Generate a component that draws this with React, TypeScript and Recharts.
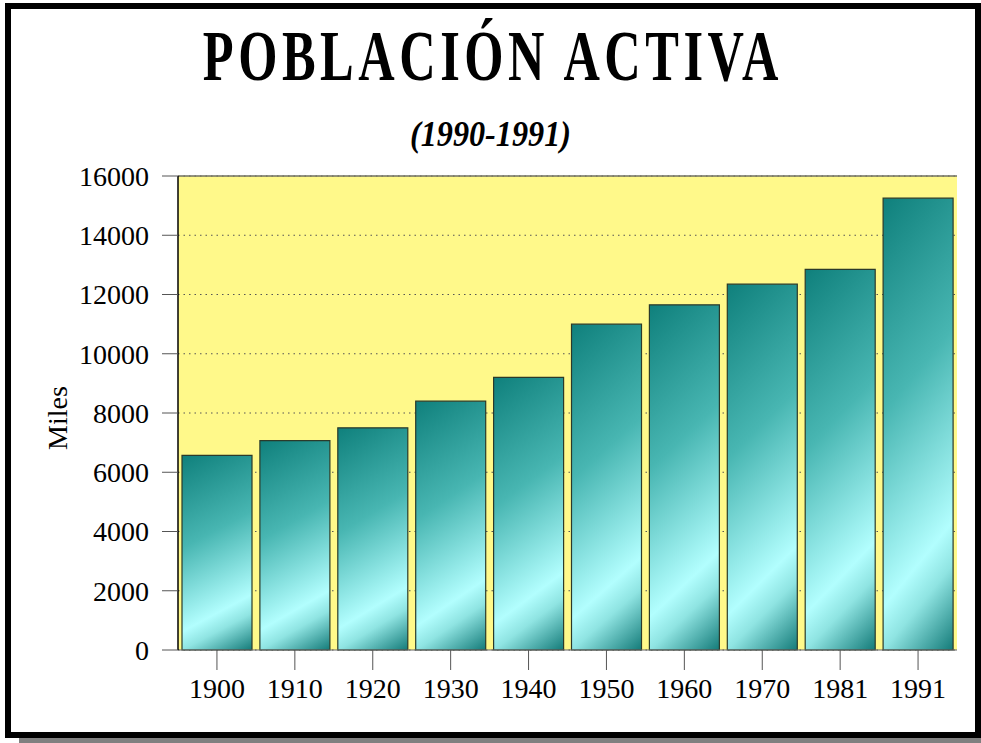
import React from 'react';
import {
  BarChart,
  Bar,
  XAxis,
  YAxis,
  CartesianGrid,
  ReferenceLine,
} from 'recharts';

// Población activa (miles)
const years = ['1900', '1910', '1920', '1930', '1940', '1950', '1960', '1970', '1981', '1991'];
const activos = [6570, 7070, 7500, 8400, 9200, 11000, 11650, 12350, 12850, 15250];
const yTicks = [0, 2000, 4000, 6000, 8000, 10000, 12000, 14000, 16000];

const data = years.map((year, i) => ({ year, miles: activos[i] }));

const SERIF = '"Liberation Serif", "Times New Roman", serif';
const tickStyle = { fontFamily: SERIF, fontSize: 28, fill: '#000' };

export default function App() {
  return (
    <div
      style={{
        position: 'absolute',
        left: 0,
        top: 0,
        width: 981,
        height: 743,
        background: '#fff',
        overflow: 'hidden',
      }}
    >
      {/* marco negro + sombra */}
      <div
        style={{
          position: 'absolute',
          left: 5,
          top: 3,
          width: 976,
          height: 735,
          border: '6px solid #000',
          boxSizing: 'border-box',
        }}
      />
      <div
        style={{
          position: 'absolute',
          left: 19,
          top: 738,
          width: 962,
          height: 5,
          background: '#808080',
        }}
      />

      <div
        style={{
          position: 'absolute',
          left: 0,
          top: 20,
          width: 981,
          textAlign: 'center',
          fontFamily: SERIF,
          fontWeight: 'bold',
          fontSize: 72,
          lineHeight: 1,
          whiteSpace: 'nowrap',
        }}
      >
        <span
          style={{
            display: 'inline-block',
            letterSpacing: 6.5,
            paddingLeft: 6.5,
            transform: 'scaleX(0.7)',
          }}
        >
          POBLACIÓN ACTIVA
        </span>
      </div>
      <div
        style={{
          position: 'absolute',
          left: 0,
          top: 117,
          width: 981,
          textAlign: 'center',
          fontFamily: SERIF,
          fontWeight: 'bold',
          fontStyle: 'italic',
          fontSize: 35,
          lineHeight: 1,
          whiteSpace: 'nowrap',
        }}
      >
        <span style={{ display: 'inline-block', transform: 'scaleX(0.92)' }}>
          (1990-1991)
        </span>
      </div>
      <div
        style={{
          position: 'absolute',
          left: 58 - 50,
          top: 418 - 14,
          width: 100,
          height: 28,
          textAlign: 'center',
          fontFamily: SERIF,
          fontSize: 28,
          lineHeight: '28px',
          transform: 'rotate(-90deg)',
        }}
      >
        Miles
      </div>

      <div style={{ position: 'absolute', left: 0, top: 0 }}>
        <BarChart
          width={981}
          height={743}
          data={data}
          margin={{ top: 176, right: 24, left: 0, bottom: 0 }}
        >
          <defs>
            <linearGradient id="barGrad" x1="0" y1="0" x2="0.22" y2="1.15">
              <stop offset="0" stopColor="#0f807c" />
              <stop offset="0.4" stopColor="#48b6b2" />
              <stop offset="0.76" stopColor="#b2fefe" />
              <stop offset="0.84" stopColor="#8fe4e2" />
              <stop offset="1" stopColor="#137a78" />
            </linearGradient>
          </defs>
          <CartesianGrid
            vertical={false}
            fill="#fff98a"
            stroke="#555"
            strokeDasharray="1.5 4"
          />
          <XAxis
            dataKey="year"
            height={93}
            tickSize={20}
            tickMargin={8}
            tick={tickStyle}
            axisLine={{ stroke: '#666' }}
            tickLine={{ stroke: '#555' }}
          />
          <YAxis
            width={178}
            domain={[0, 16000]}
            ticks={yTicks}
            interval={0}
            tickSize={16}
            tickMargin={13}
            tick={tickStyle}
            axisLine={{ stroke: '#000', strokeWidth: 1.5 }}
            tickLine={{ stroke: '#555' }}
          />
          <YAxis
            yAxisId="r"
            orientation="right"
            width={0}
            domain={[0, 16000]}
            tick={false}
            tickLine={false}
            axisLine={{ stroke: '#333', strokeWidth: 1.5 }}
          />
          <ReferenceLine y={16000} stroke="#707060" strokeWidth={1.5} />
          <Bar
            dataKey="miles"
            barSize={70}
            fill="url(#barGrad)"
            stroke="#2b3a2a"
            strokeWidth={1.2}
            isAnimationActive={false}
          />
        </BarChart>
      </div>
    </div>
  );
}
